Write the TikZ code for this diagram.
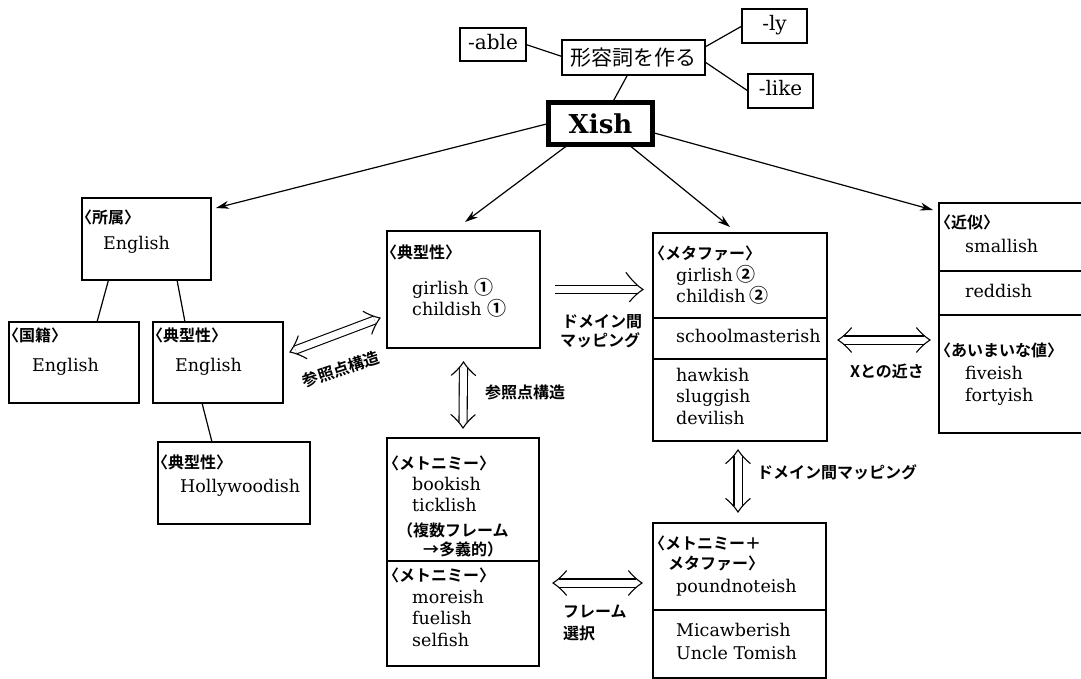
\documentclass[tikz,border=0pt]{standalone}
\usepackage{fontspec}
\setmainfont{DejaVu Serif}
\newfontfamily\jp{Noto Sans CJK JP}[BoldFont={Noto Sans CJK JP Bold}]
\usetikzlibrary{arrows.meta,calc,decorations.markings}
\newcommand\ob{\kern-.5em〈}
\newcommand\opp{\kern-.5em（}
\newcommand\circnum[1]{{\jp\bfseries\fontsize{19}{20}\selectfont #1}}
\newcommand\headfwd{\draw[line width=1.1pt, line cap=round] (-17pt,17pt) .. controls (-11pt,9pt) and (-5pt,3pt) .. (0pt,0pt) .. controls (-5pt,-3pt) and (-11pt,-9pt) .. (-17pt,-17pt);}
\newcommand\headback{\draw[line width=1.1pt, line cap=round] (17pt,17pt) .. controls (11pt,9pt) and (5pt,3pt) .. (0pt,0pt) .. controls (5pt,-3pt) and (11pt,-9pt) .. (17pt,-17pt);}
\begin{document}
\begin{tikzpicture}[x=1pt,y=-1pt,
 box/.style={draw, line width=1.2pt, inner sep=0pt, outer sep=0pt, anchor=north west},
 sm/.style={font=\fontsize{20}{22}\selectfont, text height=14pt, text depth=4pt},
 en/.style={font=\fontsize{17.5}{20}\selectfont, anchor=west, inner sep=0pt, text height=12pt, text depth=4pt},
 jl/.style={font=\jp\bfseries\fontsize{16}{19}\selectfont, anchor=west, inner sep=0pt, text height=13pt, text depth=1pt},
 arr/.style={line width=1.2pt, -{Stealth[length=13pt,width=8pt]}},
 lnk/.style={line width=1.2pt},
 dbl/.style={line width=1.1pt, double, double distance=7pt, shorten <=6pt, shorten >=6pt,
   postaction={decorate, decoration={markings, mark=at position 0 with {\headback}, mark=at position 1 with {\headfwd}}}},
 dbr/.style={line width=1.1pt, double, double distance=7pt, shorten >=6pt,
   postaction={decorate, decoration={markings, mark=at position 1 with {\headfwd}}}},
 divl/.style={line width=1.2pt}]
\useasboundingbox (0,0) rectangle (1081,679);
\clip (0,0) rectangle (1081,679);
\fill[white] (0,0) rectangle (1081,679);

% boxes
\node[box, sm, minimum width=66pt, minimum height=33pt] (able) at (460,28) {-able};
\node[box, minimum width=143pt, minimum height=35pt, font=\jp\fontsize{21}{24}\selectfont] (keiyou) at (562,40) {形容詞を作る};
\node[box, sm, minimum width=65pt, minimum height=34pt] (ly) at (742,9) {-ly};
\node[box, sm, minimum width=65pt, minimum height=34pt] (like) at (748,74) {-like};
\node[box, line width=4.5pt, minimum width=104pt, minimum height=42pt, font=\bfseries\fontsize{26}{28}\selectfont] (xish) at (548.5,102.5) {Xish};

\node[box, minimum width=129pt, minimum height=82pt] (sho) at (82,198) {};
\node[box, minimum width=130pt, minimum height=81pt] (koku) at (9,322) {};
\node[box, minimum width=130pt, minimum height=81pt] (ten1) at (153,322) {};
\node[box, minimum width=152pt, minimum height=82pt] (holly) at (158,442) {};
\node[box, minimum width=153pt, minimum height=117pt] (ten2) at (387,231) {};
\node[box, minimum width=174pt, minimum height=208pt] (meta) at (653,233) {};
\node[box, minimum width=170pt, minimum height=230pt] (kinji) at (939,203) {};
\node[box, minimum width=152pt, minimum height=228pt] (meto) at (387,438) {};
\node[box, minimum width=173pt, minimum height=155pt] (mm) at (653,523) {};

% dividers
\draw[divl] ([yshift=-85pt]meta.north west) -- ([yshift=-85pt]meta.north east);
\draw[divl] ([yshift=-126pt]meta.north west) -- ([yshift=-126pt]meta.north east);
\draw[divl] ([yshift=-68pt]kinji.north west) -- ([yshift=-68pt]kinji.north east);
\draw[divl] ([yshift=-112pt]kinji.north west) -- ([yshift=-112pt]kinji.north east);
\draw[divl] ([yshift=-123pt]meto.north west) -- ([yshift=-123pt]meto.north east);
\draw[divl] ([yshift=-87pt]mm.north west) -- ([yshift=-87pt]mm.north east);

% top links
\draw[lnk] (able.east) -- ([yshift=1pt]keiyou.west);
\draw[lnk] ([yshift=10.5pt]keiyou.east) -- (ly.west);
\draw[lnk] ([yshift=-4.5pt]keiyou.east) -- (like.west);
\draw[lnk] ([xshift=-6pt]keiyou.south) -- ([xshift=12pt]xish.north);

% arrows from Xish
\draw[arr] (xish.west) -- ([shift={(5pt,-10pt)}]sho.north east);
\draw[arr] ([xshift=-32pt]xish.south) -- ([shift={(1.5pt,9pt)}]ten2.north);
\draw[arr] ([xshift=28pt]xish.south) -- ([shift={(-10pt,6pt)}]meta.north);
\draw[arr] ([yshift=-9pt]xish.east) -- ([shift={(-6pt,-7pt)}]kinji.north west);

% tree links
\draw[lnk] ([xshift=-38pt]sho.south) -- ([xshift=23pt]koku.north);
\draw[lnk] ([xshift=30.5pt]sho.south) -- ([xshift=-33pt]ten1.north);
\draw[lnk] ([xshift=-16pt]ten1.south) -- ([xshift=-22pt]holly.north);

% double arrows
\draw[dbl] ([shift={(7pt,10.5pt)}]ten1.east) -- ([shift={(-7pt,-28.5pt)}]ten2.west);
\draw[dbr] ([xshift=15pt]ten2.east) -- ($(meta.west |- ten2.east)+(-10,0)$);
\draw[dbl] ([yshift=-14pt]ten2.south) -- ([yshift=10pt]meto.north);
\draw[dbl] ([shift={(11pt,-3pt)}]meta.east) -- ($(kinji.west |- meta.east)+(-9,3)$);
\draw[dbl] ([shift={(-2pt,-9pt)}]meta.south) -- ([shift={(-1.5pt,11pt)}]mm.north);
\draw[dbl] ($(meto.east)+(14,31)$) -- ($(mm.west |- meto.east)+(-11,31)$);

% connector labels
\node[jl, anchor=center, rotate=18] (l1) at (341,369) {参照点構造};
\node[jl] (l2) at (485,392) {参照点構造};
\node[jl, anchor=center] (l3) at (602,321) {ドメイン間};
\node[jl, anchor=center] (l4) at (600,340) {マッピング};
\node[jl, anchor=center] (l5) at (887,371) {Xとの近さ};
\node[jl] (l6) at (757,472) {ドメイン間マッピング};
\node[jl] (l7) at (563,611) {フレーム};
\node[jl] (l8) at (563,633) {選択};

% box texts
\node[jl] (t1) at (84,217) {\ob 所属〉};
\node[en] (t2) at (103,245) {English};
\node[jl] (t3) at (11,335) {\ob 国籍〉};
\node[en] (t4) at (32,367) {English};
\node[jl] (t5) at (155,335) {\ob 典型性〉};
\node[en] (t6) at (175,367) {English};
\node[jl] (t7) at (160,462) {\ob 典型性〉};
\node[en] (t8) at (180,488) {Hollywoodish};

\node[jl] (t9) at (389,252) {\ob 典型性〉};
\node[en] (t10) at (412,290) {girlish \circnum{①}};
\node[en] (t11) at (412,311) {childish \circnum{①}};

\node[jl] (t12) at (657,253) {\ob メタファー〉};
\node[en] (t13) at (676,277) {girlish\kern-2pt\ \circnum{②}};
\node[en] (t14) at (676,298) {childish\kern-2pt\ \circnum{②}};
\node[en] (t15) at (676,338) {schoolmasterish};
\node[en] (t16) at (676,377) {hawkish};
\node[en] (t17) at (676,398) {sluggish};
\node[en] (t18) at (676,420) {devilish};

\node[jl] (t19) at (943,223) {\ob 近似〉};
\node[en] (t20) at (965,248) {smallish};
\node[en] (t21) at (965,293) {reddish};
\node[jl] (t22) at (943,350) {\ob あいまいな値〉};
\node[en] (t23) at (965,375) {fiveish};
\node[en] (t24) at (965,397) {fortyish};

\node[jl] (t25) at (391,463) {\ob メトニミー〉};
\node[en] (t26) at (412,486) {bookish};
\node[en] (t27) at (412,507) {ticklish};
\node[jl] (t28) at (405,530) {\opp 複数フレーム};
\node[jl] (t29) at (423,549) {→多義的）};
\node[jl] (t30) at (391,575) {\ob メトニミー〉};
\node[en] (t31) at (412,599) {moreish};
\node[en] (t32) at (412,620) {fuelish};
\node[en] (t33) at (412,642) {selfish};

\node[jl] (t34) at (657,543) {\ob メトニミー＋};
\node[jl] (t35) at (668,563) {メタファー〉};
\node[en] (t36) at (676,588) {poundnoteish};
\node[en] (t37) at (676,632) {Micawberish};
\node[en] (t38) at (676,655) {Uncle Tomish};
\end{tikzpicture}
\end{document}
